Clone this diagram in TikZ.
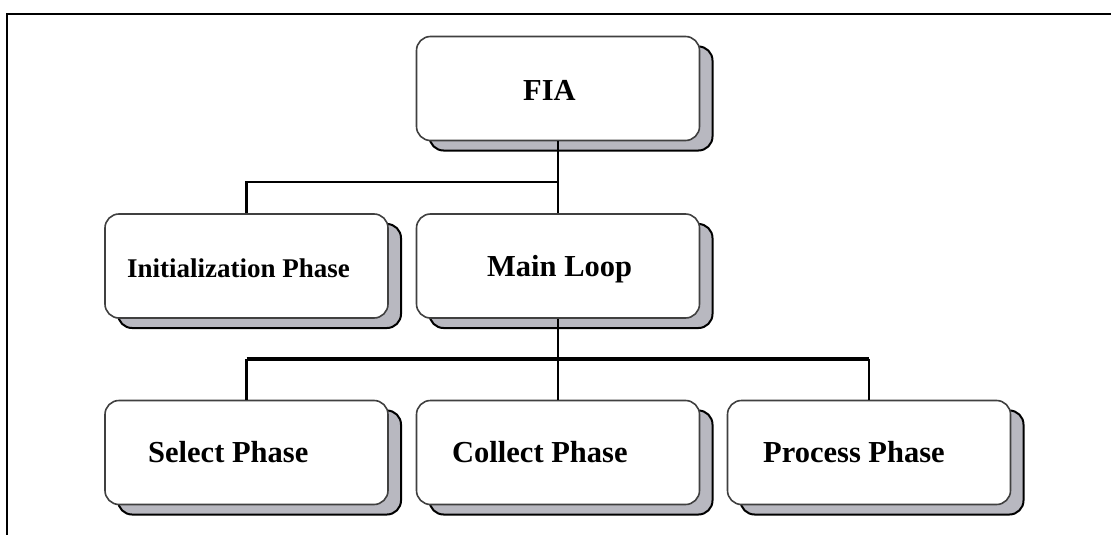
\documentclass[tikz,border=0pt]{standalone}
\usepackage{fontspec}
\setmainfont{Liberation Serif}
\usetikzlibrary{shadows}
\definecolor{shadowgray}{RGB}{184,184,192}
\tikzset{
  phasebox/.style={draw=black!75, line width=1.6pt, fill=white,
    rounded corners=14pt, minimum width=283pt, minimum height=104pt, inner sep=0pt,
    drop shadow={shadow xshift=13pt, shadow yshift=-10pt, fill=shadowgray,
      draw=black, line width=2pt, opacity=1}},
  phaselabel/.style={anchor=base west, inner sep=0pt, font=\bfseries\fontsize{30.5}{36}\selectfont},
  smalllabel/.style={phaselabel, font=\bfseries\fontsize{27}{32}\selectfont},
  link/.style={line width=2.6pt},
  bus/.style={line width=4pt},
  frameline/.style={line width=2.6pt}
}
\begin{document}
\begin{tikzpicture}[x=1pt, y=-1pt]
  \useasboundingbox (0,0) rectangle (1111,535);
  \fill[white] (0,0) rectangle (1111,535);

  % outer frame (top and left edges)
  \coordinate (frameTL) at (7,14);
  \coordinate (frameTR) at (1111,14);
  \coordinate (frameBL) at (7,535);
  \draw[frameline] (frameTR) -- (frameTL) -- (frameBL);

  % boxes
  \node[phasebox] (fia)  at (558,88.5) {};
  \node[phasebox] (init) at (246.5,266) {};
  \node[phasebox] (main) at (558,266) {};
  \node[phasebox] (sel)  at (246.5,452.5) {};
  \node[phasebox] (coll) at (558,452.5) {};
  \node[phasebox] (proc) at (869,452.5) {};

  % labels
  \node[phaselabel] (tfia)  at (523,100) {FIA};
  \node[smalllabel] (tinit) at (127,277) {Initialization Phase};
  \node[phaselabel] (tmain) at (487,276) {Main Loop};
  \node[phaselabel] (tsel)  at (148,462) {Select Phase};
  \node[phaselabel] (tcoll) at (452,462) {Collect Phase};
  \node[phaselabel] (tproc) at (763,462) {Process Phase};

  % upper tree
  \coordinate (busA) at (558,182);
  \draw[link] (fia.south) -- (main.north);
  \draw[link] (init.north) |- (busA);

  % lower tree
  \coordinate (busB) at (558,359);
  \draw[link] (main.south) -- (coll.north);
  \draw[link] (sel.north) -- (sel.north |- busB);
  \draw[link] (proc.north) -- (proc.north |- busB);
  \draw[bus] (sel.north |- busB) -- (proc.north |- busB);
\end{tikzpicture}
\end{document}
